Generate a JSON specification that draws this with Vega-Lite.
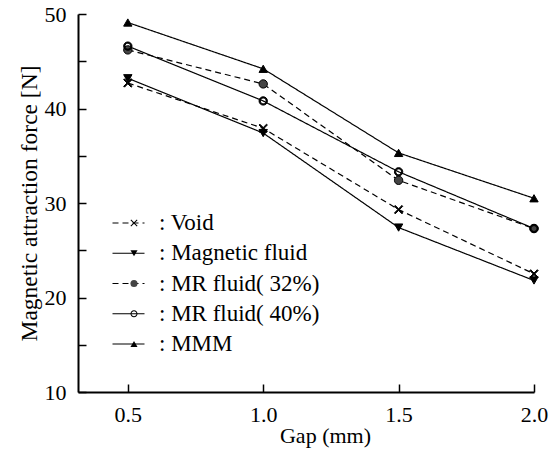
{
  "$schema": "https://vega.github.io/schema/vega-lite/v6.json",
  "width": 456,
  "height": 378,
  "autosize": "none",
  "padding": {"left": 78, "top": 14, "right": 18, "bottom": 66},
  "background": "white",
  "config": {
    "view": {"stroke": null},
    "font": "Liberation Serif, Times New Roman, Times, DejaVu Serif, serif",
    "axis": {
      "grid": false,
      "domainColor": "black",
      "domainWidth": 2,
      "tickColor": "black",
      "tickWidth": 1.5,
      "labelColor": "black",
      "titleColor": "black",
      "labelFont": "Liberation Serif, Times New Roman, Times, DejaVu Serif, serif",
      "titleFont": "Liberation Serif, Times New Roman, Times, DejaVu Serif, serif",
      "labelFontSize": 22,
      "titleFontSize": 22,
      "titleFontWeight": "normal"
    },
    "legend": {
      "labelFont": "Liberation Serif, Times New Roman, Times, DejaVu Serif, serif",
      "labelLimit": 400
    }
  },
  "data": {
    "values": [
      {"series": "Void", "gap": 0.5, "force": 42.7},
      {"series": "Void", "gap": 1.0, "force": 37.9},
      {"series": "Void", "gap": 1.5, "force": 29.3},
      {"series": "Void", "gap": 2.0, "force": 22.5},
      {"series": "Magnetic fluid", "gap": 0.5, "force": 43.2},
      {"series": "Magnetic fluid", "gap": 1.0, "force": 37.4},
      {"series": "Magnetic fluid", "gap": 1.5, "force": 27.4},
      {"series": "Magnetic fluid", "gap": 2.0, "force": 21.8},
      {"series": "MR fluid( 32%)", "gap": 0.5, "force": 46.2},
      {"series": "MR fluid( 32%)", "gap": 1.0, "force": 42.6},
      {"series": "MR fluid( 32%)", "gap": 1.5, "force": 32.4},
      {"series": "MR fluid( 32%)", "gap": 2.0, "force": 27.3},
      {"series": "MR fluid( 40%)", "gap": 0.5, "force": 46.6},
      {"series": "MR fluid( 40%)", "gap": 1.0, "force": 40.8},
      {"series": "MR fluid( 40%)", "gap": 1.5, "force": 33.3},
      {"series": "MR fluid( 40%)", "gap": 2.0, "force": 27.3},
      {"series": "MMM", "gap": 0.5, "force": 49.1},
      {"series": "MMM", "gap": 1.0, "force": 44.2},
      {"series": "MMM", "gap": 1.5, "force": 35.3},
      {"series": "MMM", "gap": 2.0, "force": 30.5}
    ]
  },
  "encoding": {
    "x": {
      "field": "gap",
      "type": "quantitative",
      "scale": {"domain": [0.316, 2.0], "nice": false, "zero": false},
      "axis": {
        "values": [0.5, 1.0, 1.5, 2.0],
        "format": ".1f",
        "title": "Gap (mm)",
        "tickSize": -8,
        "labelPadding": 20,
        "titlePadding": 0,
        "titleX": 247,
        "labelFlush": false
      }
    },
    "y": {
      "field": "force",
      "type": "quantitative",
      "scale": {"domain": [10, 50], "nice": false, "zero": false},
      "axis": {
        "values": [10, 15, 20, 25, 30, 35, 40, 45, 50],
        "labelExpr": "datum.value % 10 === 0 ? datum.label : ''",
        "title": "Magnetic attraction force [N]",
        "titleFontSize": 23.5,
        "tickSize": -8,
        "labelPadding": 20,
        "titlePadding": 3,
        "labelFlush": false
      }
    }
  },
  "layer": [
    {
      "mark": {"type": "line", "color": "black", "strokeWidth": 1.2},
      "encoding": {
        "strokeDash": {
          "field": "series",
          "type": "nominal",
          "sort": ["Void", "Magnetic fluid", "MR fluid( 32%)", "MR fluid( 40%)", "MMM"],
          "scale": {"range": [[6, 4], [1, 0], [6, 4], [1, 0], [1, 0]]},
          "legend": {
            "orient": "none",
            "legendX": 39,
            "legendY": 197.5,
            "title": null,
            "padding": 0,
            "symbolType": "M-1.6,0L1.6,0",
            "symbolSize": 400,
            "symbolStrokeColor": "black",
            "symbolStrokeWidth": 1.2,
            "labelFontSize": 23,
            "labelColor": "black",
            "labelOffset": 19,
            "labelExpr": "': ' + datum.label",
            "rowPadding": 6.25
          }
        }
      }
    },
    {
      "mark": {"type": "point", "size": 70, "stroke": "black", "strokeWidth": 1, "opacity": 1},
      "encoding": {
        "shape": {
          "field": "series",
          "type": "nominal",
          "scale": {
            "domain": ["Void", "Magnetic fluid", "MR fluid( 32%)", "MR fluid( 40%)", "MMM"],
            "range": [
              "M0,-0.2L0.8,-1L1,-0.8L0.2,0L1,0.8L0.8,1L0,0.2L-0.8,1L-1,0.8L-0.2,0L-1,-0.8L-0.8,-1Z",
              "triangle-down",
              "circle",
              "M0,-1A1,1,0,1,1,0,1A1,1,0,1,1,0,-1Z M0,-0.7A0.7,0.7,0,1,0,0,0.7A0.7,0.7,0,1,0,0,-0.7Z",
              "triangle-up"
            ]
          },
          "legend": {
            "orient": "none",
            "legendX": 44.5,
            "legendY": 197.5,
            "title": null,
            "padding": 0,
            "symbolSize": 50,
            "symbolStrokeColor": "black",
            "symbolStrokeWidth": 1,
            "labelFontSize": 23,
            "labelOffset": 18,
            "labelExpr": "''",
            "rowPadding": 6.25
          }
        },
        "fill": {
          "field": "series",
          "type": "nominal",
          "scale": {
            "domain": ["Void", "Magnetic fluid", "MR fluid( 32%)", "MR fluid( 40%)", "MMM"],
            "range": ["black", "black", "#444444", "black", "black"]
          },
          "legend": {
            "orient": "none",
            "legendX": 44.5,
            "legendY": 197.5,
            "title": null,
            "padding": 0,
            "symbolSize": 50,
            "symbolStrokeColor": "black",
            "symbolStrokeWidth": 1,
            "labelFontSize": 23,
            "labelOffset": 18,
            "labelExpr": "''",
            "rowPadding": 6.25
          }
        }
      }
    }
  ]
}
